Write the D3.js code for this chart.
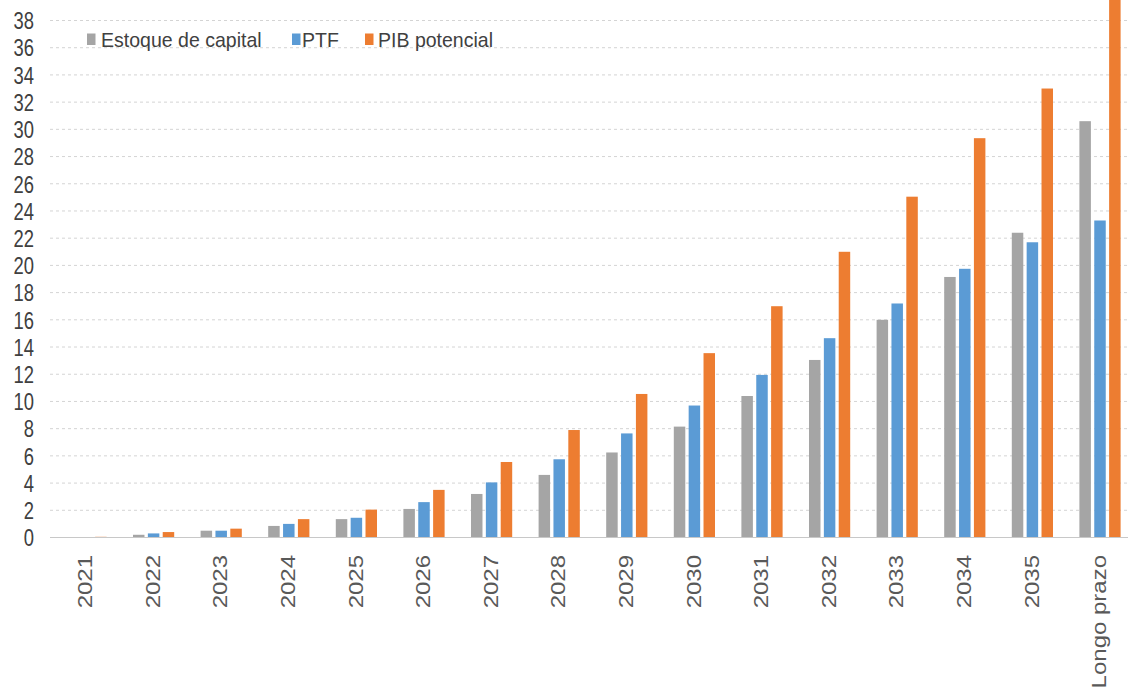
<!DOCTYPE html>
<html>
<head>
<meta charset="utf-8">
<script src="https://cdn.jsdelivr.net/npm/d3@7/dist/d3.min.js"></script>
<style>
  html, body { margin: 0; padding: 0; background: #ffffff; }
  svg { display: block; font-family: "Liberation Sans", Arial, sans-serif; }
</style>
</head>
<body>
<svg id="chart" width="1128" height="690"></svg>
<script>
const categories = ["2021","2022","2023","2024","2025","2026","2027","2028","2029","2030","2031","2032","2033","2034","2035","Longo prazo"];
const seriesNames = ["Estoque de capital", "PTF", "PIB potencial"];
const estoque = [0.02, 0.2, 0.5, 0.85, 1.35, 2.1, 3.2, 4.6, 6.25, 8.15, 10.4, 13.05, 16.0, 19.15, 22.4, 30.6];
const ptf     = [0.03, 0.3, 0.5, 1.0, 1.45, 2.6, 4.05, 5.75, 7.65, 9.7, 11.95, 14.65, 17.2, 19.75, 21.7, 23.3];
const pib     = [0.05, 0.4, 0.65, 1.35, 2.05, 3.5, 5.55, 7.9, 10.55, 13.55, 17.0, 21.0, 25.05, 29.35, 33.0, 40.5];
const yTicks  = d3.range(0, 39, 2);

const seriesValues = [estoque, ptf, pib];
const colors = ["#A5A5A5", "#5B9BD5", "#ED7D31"];

const svg = d3.select("#chart");

const y = d3.scaleLinear().domain([0, 38]).range([537.5, 20.5]);
const x = d3.scaleBand().domain(categories).range([52.2, 1133.8]).paddingInner(0).paddingOuter(0);
const xs = d3.scaleBand().domain(seriesNames).range([13.2, x.bandwidth() - 13.2]).paddingInner(0.227).paddingOuter(0);

// gridlines
const grid = svg.append("g");
grid.selectAll("line.g").data(yTicks.filter(d => d > 0)).join("line")
  .attr("x1", 50).attr("x2", 1128)
  .attr("y1", d => y(d)).attr("y2", d => y(d))
  .attr("stroke", "#d4d4d4").attr("stroke-width", 1)
  .attr("stroke-dasharray", "3,3");

// y tick labels
const yAxis = d3.axisLeft(y).tickValues(yTicks).tickSize(0).tickPadding(0);
const yg = svg.append("g").attr("transform", "translate(34,0)").call(yAxis);
yg.select(".domain").remove();
yg.selectAll(".tick text")
  .attr("x", 0).attr("dy", "0.36em")
  .attr("text-anchor", "end")
  .attr("fill", "#404040")
  .style("font-size", "23px")
  .attr("transform", "scale(0.8,1)");

// bars
const rows = categories.map((c, i) => ({ cat: c, vals: seriesNames.map((s, k) => ({ s, k, v: seriesValues[k][i] })) }));
const groups = svg.append("g").selectAll("g").data(rows).join("g")
  .attr("transform", d => `translate(${x(d.cat)},0)`);
groups.selectAll("rect").data(d => d.vals).join("rect")
  .attr("x", d => xs(d.s))
  .attr("width", xs.bandwidth())
  .attr("y", d => y(d.v))
  .attr("height", d => y(0) - y(d.v))
  .attr("fill", d => colors[d.k]);

// zero line
svg.append("line")
  .attr("x1", 50).attr("x2", 1128)
  .attr("y1", y(0)).attr("y2", y(0))
  .attr("stroke", "#c8c8c8").attr("stroke-width", 1);

// x labels
const xAxis = d3.axisBottom(x).tickSize(0).tickPadding(0);
const xg = svg.append("g").attr("transform", "translate(-1,555)").call(xAxis);
xg.select(".domain").remove();
xg.selectAll(".tick text")
  .attr("y", 0).attr("x", 0).attr("dy", "0.36em")
  .attr("text-anchor", "end")
  .attr("fill", "#595959")
  .style("font-size", "20px")
  .attr("transform", "rotate(-90) scale(1.2,1)");

// legend
const legendPos = [{ sx: 87, tx: 101 }, { sx: 292, tx: 302 }, { sx: 365, tx: 378 }];
const lg = svg.append("g").selectAll("g").data(seriesNames).join("g");
lg.append("rect")
  .attr("x", (d, i) => legendPos[i].sx).attr("y", 33.5)
  .attr("width", 8.5).attr("height", 11.5)
  .attr("fill", (d, i) => colors[i]);
lg.append("text")
  .attr("transform", (d, i) => `translate(${legendPos[i].tx},46.5) scale(0.93,1)`)
  .attr("fill", "#404040")
  .style("font-size", "21px")
  .text(d => d);
</script>
</body>
</html>
